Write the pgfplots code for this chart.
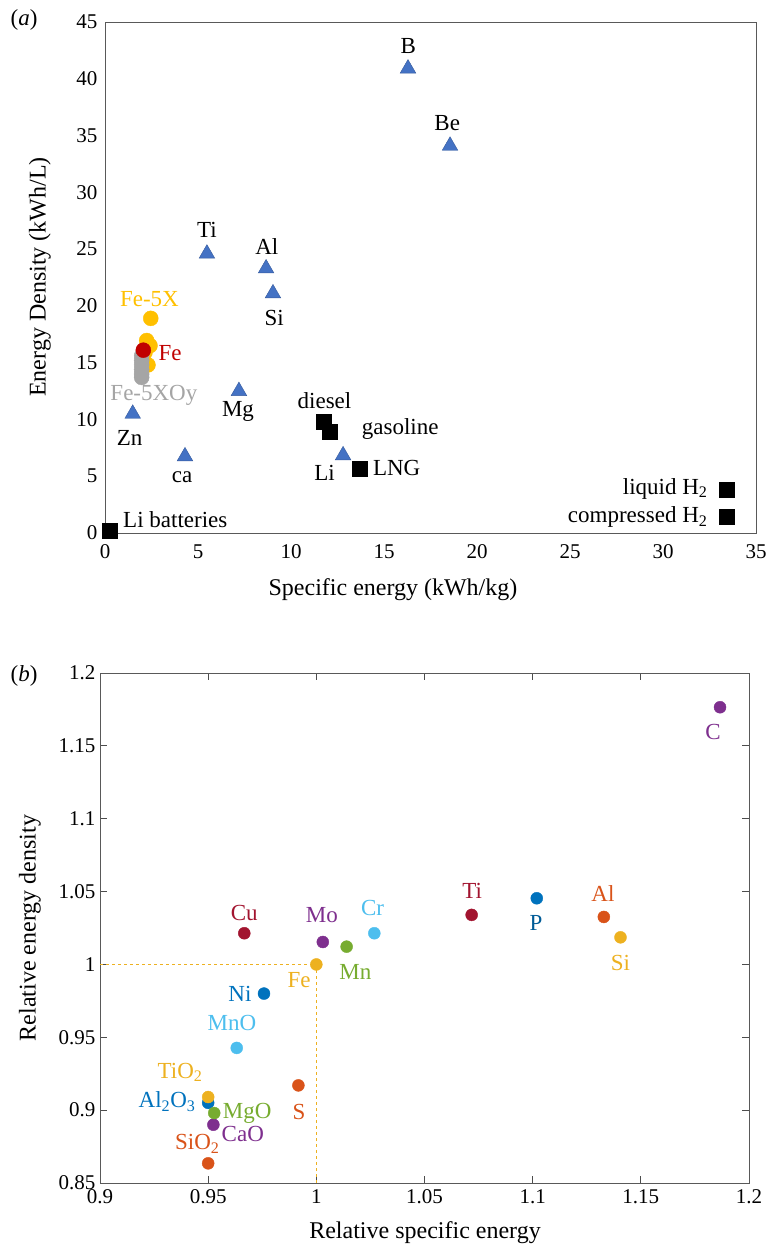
\documentclass[border=0pt]{standalone}
\usepackage{fontspec}
\setmainfont{Liberation Serif}
\usepackage{pgfplots}
\pgfplotsset{compat=1.18}

\definecolor{triblue}{HTML}{4472C4}
\definecolor{feyel}{HTML}{FFC000}
\definecolor{fered}{HTML}{C00000}
\definecolor{fegray}{HTML}{A5A5A5}
\definecolor{mblue}{HTML}{0072BD}
\definecolor{morange}{HTML}{D95319}
\definecolor{myellow}{HTML}{EDB120}
\definecolor{mpurple}{HTML}{7E2F8E}
\definecolor{mgreen}{HTML}{77AC30}
\definecolor{mcyan}{HTML}{4DBEEE}
\definecolor{mred}{HTML}{A2142F}

\newcommand{\lab}{\fontsize{23}{26}\selectfont}
\newcommand{\axlab}{\fontsize{24}{27}\selectfont}

\begin{document}
\begin{tikzpicture}
\useasboundingbox (0,0) rectangle (769pt,-1246pt);

% ---------- panel (a)
\begin{axis}[
  at={(105pt,-22pt)}, anchor=north west,
  scale only axis, width=651pt, height=511pt,
  xmin=0, xmax=35, ymin=0, ymax=45,
  xtick={0,5,...,35}, ytick={0,5,...,45},
  major tick length=0pt,
  axis line style={draw=black!65, line width=0.9pt},
  tick label style={font=\fontsize{21}{24}\selectfont},
  /pgf/number format/assume math mode=true,
  yticklabel style={xshift=-4pt},
  xticklabel style={yshift=-8pt},
  clip=false,
]
\addplot[only marks, mark=triangle*, mark size=9pt, color=triblue,
  mark options={draw=triblue!80!black, line width=0.4pt}] coordinates {
  (16.29,40.9) (18.55,34.1) (5.48,24.6) (8.66,23.3) (9.03,21.1)
  (7.2,12.5) (1.49,10.5) (4.3,6.75) (12.8,6.84)
};
\addplot[only marks, mark=square*, mark size=7.5pt, color=black] coordinates {
  (0.23,0.24) (11.74,9.77) (12.1,8.9) (13.7,5.67) (33.4,3.82) (33.4,1.41)
};
\addplot[only marks, mark=*, mark size=7.5pt, color=feyel] coordinates {
  (2.46,18.9) (2.24,16.95) (2.42,16.5) (2.15,15.9) (2.31,14.8)
};
\addplot[only marks, mark=*, mark size=7.5pt, color=fegray] coordinates {
  (1.97,15.6) (1.97,15.2) (1.97,14.8) (1.97,14.4) (1.97,14.0) (1.97,13.7)
};
\addplot[only marks, mark=*, mark size=7.5pt, color=fered] coordinates {
  (2.06,16.1)
};
\node[font=\lab] at (axis cs:16.3,42.9) {B};
\node[font=\lab] at (axis cs:18.4,36.1) {Be};
\node[font=\lab] at (axis cs:5.48,26.7) {Ti};
\node[font=\lab] at (axis cs:8.7,25.2) {Al};
\node[font=\lab] at (axis cs:9.1,18.9) {Si};
\node[font=\lab] at (axis cs:7.15,10.7) {Mg};
\node[font=\lab] at (axis cs:1.32,8.4) {Zn};
\node[font=\lab] at (axis cs:4.14,4.9) {ca};
\node[font=\lab] at (axis cs:11.8,5.3) {Li};
\node[font=\lab] at (axis cs:11.8,11.7) {diesel};
\node[font=\lab, anchor=west, inner sep=0pt] at (axis cs:13.8,9.2) {gasoline};
\node[font=\lab, anchor=west, inner sep=0pt] at (axis cs:14.4,5.7) {LNG};
\node[font=\lab, anchor=west, inner sep=0pt] at (axis cs:0.97,1.2) {Li batteries};
\node[font=\lab, anchor=east, inner sep=0pt] at (axis cs:32.4,3.9) {liquid H\textsubscript{2}};
\node[font=\lab, anchor=east, inner sep=0pt] at (axis cs:32.4,1.4) {compressed H\textsubscript{2}};
\node[font=\lab, text=feyel] at (axis cs:2.39,20.6) {Fe-5X};
\node[font=\lab, text=fered] at (axis cs:3.5,15.8) {Fe};
\node[font=\lab, text=fegray] at (axis cs:2.63,12.1) {Fe-5XOy};
\end{axis}
\node[font=\lab] at (24pt,-20pt) {(\textit{a})};
\node[font=\axlab, rotate=90] at (40pt,-277pt) {Energy Density (kWh/L)};
\node[font=\axlab] at (393pt,-590pt) {Specific energy (kWh/kg)};

% ---------- panel (b)
\begin{axis}[
  at={(100pt,-673pt)}, anchor=north west,
  scale only axis, width=649pt, height=510pt,
  xmin=0.9, xmax=1.2, ymin=0.85, ymax=1.2,
  xtick={0.9,0.95,1,1.05,1.1,1.15,1.2},
  ytick={0.85,0.9,0.95,1,1.05,1.1,1.15,1.2},
  tick align=inside, major tick length=7pt,
  every tick/.style={black!70, line width=0.8pt},
  axis line style={draw=black!65, line width=0.9pt},
  tick label style={font=\fontsize{21}{24}\selectfont},
  /pgf/number format/assume math mode=true,
  /pgf/number format/fixed, /pgf/number format/precision=2,
  xticklabel style={yshift=-3pt},
  yticklabel style={xshift=-1pt},
  clip=false,
]
\addplot[myellow, dashed, line width=0.8pt] coordinates {(0.9,1) (1,1) (1,0.85)};
\addplot[only marks, mark=*, mark size=6pt, color=mpurple] coordinates {
  (1.1866,1.1765) (1.003,1.0154) (0.9524,0.890)
};
\addplot[only marks, mark=*, mark size=6pt, color=mred] coordinates {
  (1.0718,1.034) (0.9667,1.0214)
};
\addplot[only marks, mark=*, mark size=6pt, color=mblue] coordinates {
  (1.1019,1.0454) (0.9758,0.980) (0.950,0.905)
};
\addplot[only marks, mark=*, mark size=6pt, color=morange] coordinates {
  (1.1329,1.0326) (0.9917,0.917) (0.950,0.8635)
};
\addplot[only marks, mark=*, mark size=6pt, color=myellow] coordinates {
  (1.1406,1.0186) (1.0,1.0) (0.950,0.909)
};
\addplot[only marks, mark=*, mark size=6pt, color=mgreen] coordinates {
  (1.014,1.0122) (0.9528,0.898)
};
\addplot[only marks, mark=*, mark size=6pt, color=mcyan] coordinates {
  (1.0268,1.0214) (0.9632,0.9427)
};
\node[font=\lab, text=mpurple] at (axis cs:1.1834,1.1596) {C};
\node[font=\lab, text=mred] at (axis cs:1.072,1.0507) {Ti};
\node[font=\lab, text=mblue!80!black] at (axis cs:1.1016,1.0288) {P};
\node[font=\lab, text=morange] at (axis cs:1.1325,1.0486) {Al};
\node[font=\lab, text=myellow] at (axis cs:1.1406,1.0007) {Si};
\node[font=\lab, text=mred] at (axis cs:0.9667,1.035) {Cu};
\node[font=\lab, text=mpurple] at (axis cs:1.0026,1.034) {Mo};
\node[font=\lab, text=mcyan] at (axis cs:1.026,1.0384) {Cr};
\node[font=\lab, text=mgreen] at (axis cs:1.018,0.9945) {Mn};
\node[font=\lab, text=myellow] at (axis cs:0.992,0.989) {Fe};
\node[font=\lab, text=mblue] at (axis cs:0.9647,0.980) {Ni};
\node[font=\lab, text=mcyan] at (axis cs:0.961,0.960) {MnO};
\node[font=\lab, text=myellow] at (axis cs:0.937,0.926) {TiO\textsubscript{2}};
\node[font=\lab, text=mblue] at (axis cs:0.931,0.906) {Al\textsubscript{2}O\textsubscript{3}};
\node[font=\lab, text=mgreen] at (axis cs:0.968,0.898) {MgO};
\node[font=\lab, text=mpurple] at (axis cs:0.966,0.8836) {CaO};
\node[font=\lab, text=morange] at (axis cs:0.945,0.877) {SiO\textsubscript{2}};
\node[font=\lab, text=morange] at (axis cs:0.992,0.899) {S};
\end{axis}
\node[font=\lab] at (24pt,-676pt) {(\textit{b})};
\node[font=\axlab, rotate=90] at (30pt,-928pt) {Relative energy density};
\node[font=\axlab] at (425pt,-1233pt) {Relative specific energy};
\end{tikzpicture}
\end{document}
